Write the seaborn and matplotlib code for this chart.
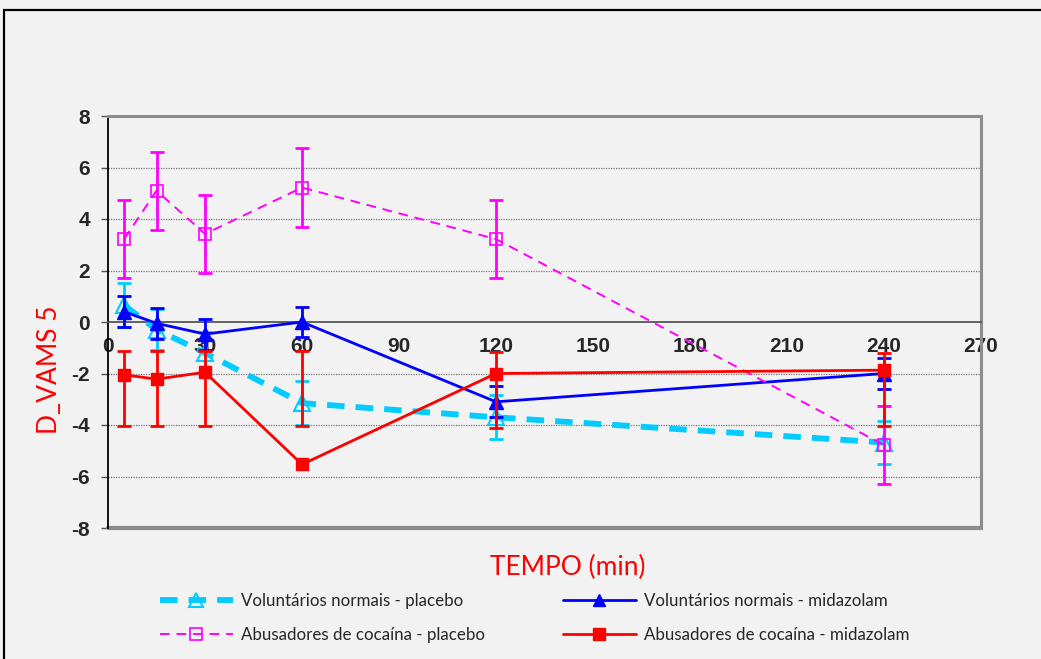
import numpy as np
import pandas as pd
import matplotlib
matplotlib.use("Agg")
import matplotlib.pyplot as plt
from matplotlib.patches import Rectangle
from matplotlib.lines import Line2D
import seaborn as sns

# Time points (min)
tempo = [5, 15, 30, 60, 120, 240]

# Normal volunteers - placebo (mean, SE)
vn_placebo = [0.65, -0.30, -1.20, -3.15, -3.70, -4.68]
vn_placebo_se = [0.85, 0.80, 0.80, 0.85, 0.85, 0.85]

# Normal volunteers - midazolam
vn_midazolam = [0.40, -0.05, -0.47, 0.00, -3.10, -2.00]
vn_midazolam_se = [0.60, 0.60, 0.60, 0.60, 0.60, 0.60]

# Cocaine users - placebo
ac_placebo = [3.22, 5.10, 3.42, 5.22, 3.22, -4.78]
ac_placebo_se = [1.52, 1.52, 1.52, 1.52, 1.52, 1.52]

# Cocaine users - midazolam (error bar limits given as low/high)
ac_midazolam = [-2.05, -2.22, -1.95, -5.53, -2.00, -1.87]
ac_midazolam_low = [-4.05, -4.05, -4.05, -4.05, -4.10, -4.05]
ac_midazolam_high = [-1.13, -1.13, -1.13, -1.13, -1.15, -1.20]

labels = [
    "Voluntários normais - placebo",
    "Voluntários normais - midazolam",
    "Abusadores de cocaína - placebo",
    "Abusadores de cocaína - midazolam",
]

x_ticks = list(range(0, 271, 30))
y_ticks = list(range(-8, 9, 2))

sns.set_theme(style="white")
plt.rcParams["font.family"] = ["Liberation Sans", "DejaVu Sans"]

BG = "#f2f2f2"
CYAN = "#00ccff"
BLUE = "#0000ff"
MAGENTA = "#ff00ff"
RED = "#ff0000"

fig = plt.figure(figsize=(10.41, 6.59), dpi=100, facecolor=BG)
# outer frame of the chart area
fig.patches.append(Rectangle((4 / 1041, -0.1), 1.2, (1 - 10 / 659) + 0.1,
                             transform=fig.transFigure, fill=False,
                             edgecolor="black", linewidth=1.6, zorder=0))

ax = fig.add_axes([108 / 1041, 1 - 528 / 659, (981 - 108) / 1041, (528 - 116) / 659])
ax.set_facecolor(BG)

df = pd.DataFrame({
    "tempo": tempo * 4,
    "valor": vn_placebo + vn_midazolam + ac_placebo + ac_midazolam,
    "grupo": sum([[l] * len(tempo) for l in labels], []),
})

styles = {
    labels[0]: dict(color=CYAN, lw=4.2, ls=(0, (3.0, 1.9)), marker="^", mfc="none",
                    mec=CYAN, ms=11, mew=1.5),
    labels[1]: dict(color=BLUE, lw=2.0, ls="-", marker="^", mfc=BLUE,
                    mec=BLUE, ms=10, mew=1),
    labels[2]: dict(color=MAGENTA, lw=1.4, ls=(0, (5, 3.5)), marker="s", mfc="none",
                    mec=MAGENTA, ms=9, mew=1.2),
    labels[3]: dict(color=RED, lw=2.0, ls="-", marker="s", mfc=RED,
                    mec=RED, ms=9, mew=1),
}

errs = {
    labels[0]: (np.array(vn_placebo), np.array(vn_placebo_se)),
    labels[1]: (np.array(vn_midazolam), np.array(vn_midazolam_se)),
    labels[2]: (np.array(ac_placebo), np.array(ac_placebo_se)),
    labels[3]: ((np.array(ac_midazolam_low) + np.array(ac_midazolam_high)) / 2,
                (np.array(ac_midazolam_high) - np.array(ac_midazolam_low)) / 2),
}

for i, lab in enumerate(labels):
    st = styles[lab]
    sub = df[df["grupo"] == lab]
    centre, half = errs[lab]
    ax.errorbar(tempo, centre, yerr=half, fmt="none", ecolor=st["color"],
                elinewidth=2.0, capsize=5, capthick=2.0, zorder=3 + i)
    sns.lineplot(data=sub, x="tempo", y="valor", ax=ax, color=st["color"],
                 linewidth=st["lw"], linestyle=st["ls"], marker=st["marker"],
                 markerfacecolor=st["mfc"], markeredgecolor=st["mec"],
                 markersize=st["ms"], markeredgewidth=st["mew"],
                 legend=False, zorder=3.5 + i)

# spines: x axis crosses at y = 0
for side in ("top", "right"):
    ax.spines[side].set_color("#8c8c8c")
    ax.spines[side].set_linewidth(2.2)
ax.spines["left"].set_color("black")
ax.spines["left"].set_linewidth(1.3)
ax.spines["bottom"].set_position(("data", 0))
ax.spines["bottom"].set_color("#555555")
ax.spines["bottom"].set_linewidth(1.3)

ax.set_xlim(0, 270)
ax.set_ylim(-8, 8)
ax.set_xticks(x_ticks)
ax.set_yticks(y_ticks)
ax.set_xticklabels([str(t) for t in x_ticks])
ax.set_yticklabels([str(t) for t in y_ticks])
ax.tick_params(axis="x", direction="out", length=5, width=1, color="#555555", pad=6,
               labelsize=15)
ax.tick_params(axis="y", direction="out", length=5, width=1, color="#555555", pad=8,
               left=True, labelsize=15)
for t in ax.get_xticklabels() + ax.get_yticklabels():
    t.set_fontweight("bold")

for yv in y_ticks:
    if yv not in (-8, 0, 8):
        ax.axhline(yv, color="#777777", lw=0.9, ls=(0, (1, 1)), zorder=1)
# bottom edge of the plot area
ax.axhline(-8, color="#8c8c8c", lw=3.0, zorder=2, clip_on=False)

lab_font = ["Lato", "DejaVu Sans"]
ax.set_xlabel("TEMPO (min)", color=RED, fontsize=19, family=lab_font)
ax.set_ylabel("D_VAMS 5", color=RED, fontsize=19, family=lab_font)
ax.xaxis.set_label_coords((568 - 108) / 873, (528 - 555) / 412)
ax.yaxis.set_label_coords((62 - 108) / 873, 1 - (370 - 116) / 412)

# legend in two columns, placed as separate blocks
handles = []
for lab in labels:
    st = styles[lab]
    handles.append(Line2D([], [], color=st["color"], lw=st["lw"], ls=st["ls"],
                          marker=st["marker"], mfc=st["mfc"], mec=st["mec"],
                          ms=st["ms"] * 0.9, mew=st["mew"]))

leg_kw = dict(frameon=False, prop={"family": lab_font, "size": 12.2},
              handlelength=4.3, handletextpad=0.5, labelspacing=1.1,
              borderpad=0, borderaxespad=0, loc="center left")
leg1 = fig.legend([handles[0], handles[2]], [labels[0], labels[2]],
                  bbox_to_anchor=(160 / 1041, 1 - 618 / 659), **leg_kw)
leg2 = fig.legend([handles[1], handles[3]], [labels[1], labels[3]],
                  bbox_to_anchor=(563 / 1041, 1 - 618 / 659), **leg_kw)

fig.savefig("out.png", dpi=100, facecolor=BG)
